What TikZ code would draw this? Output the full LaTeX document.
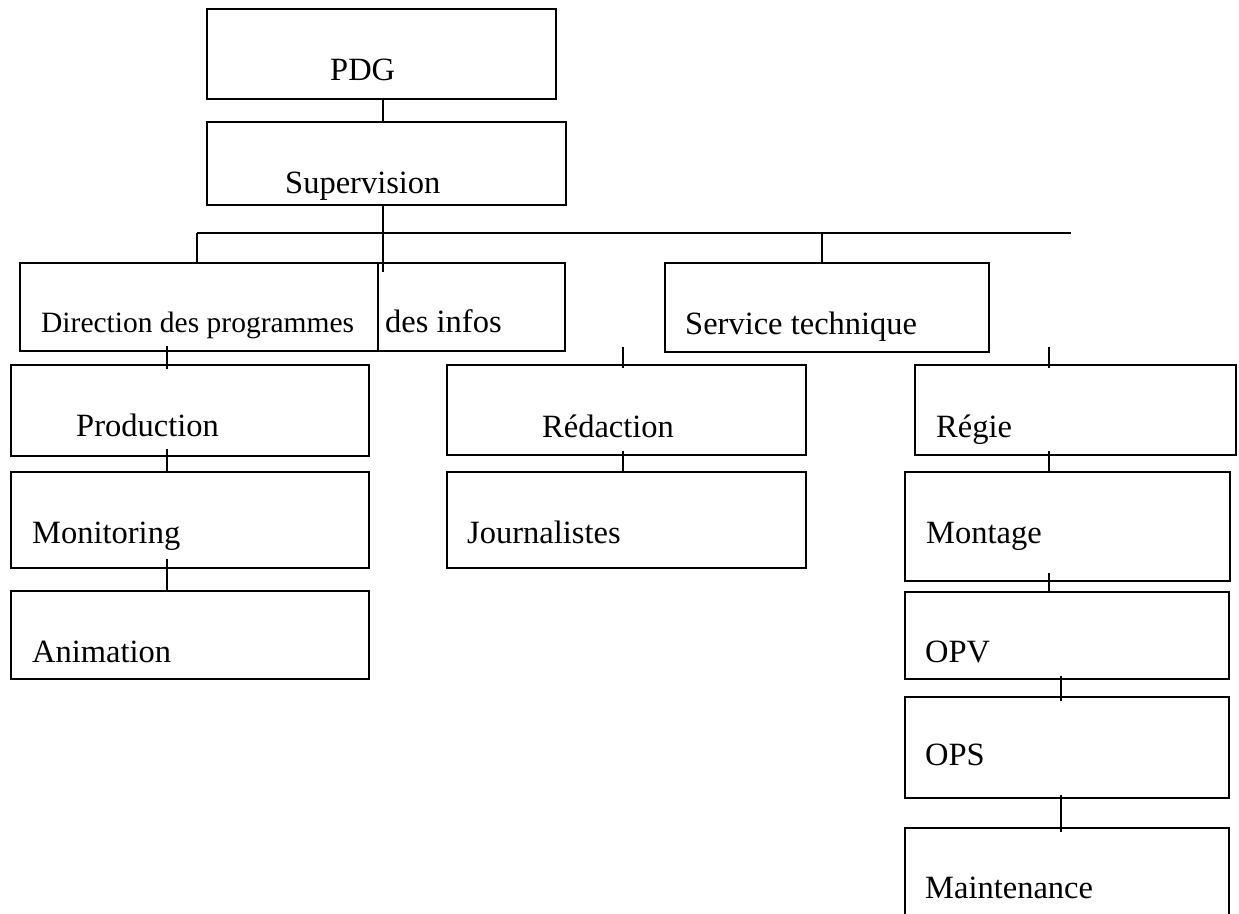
\documentclass[tikz,border=0pt]{standalone}
\usepackage{fontspec}
\setmainfont{Liberation Serif}
\tikzset{
  orgbox/.style={draw=black, fill=white, line width=1.7pt, inner sep=0pt},
  orgtext/.style={inner sep=0pt, anchor=base west, font=\fontsize{32.5}{38}\selectfont},
  smalltext/.style={inner sep=0pt, anchor=base west, font=\fontsize{29.5}{34}\selectfont},
  link/.style={draw=black, line width=1.7pt}
}
\newcommand\mybox[5]{%
  \node[orgbox, minimum width=#4pt-#2pt, minimum height=#5pt-#3pt] (#1) at ({(#2+#4)/2},{(#3+#5)/2}) {};}
\begin{document}
\begin{tikzpicture}[x=1pt,y=-1pt]
\useasboundingbox (0,0) rectangle (1239,913);
\clip (0,0) rectangle (1239,913);
% boxes
\mybox{pdg}{207}{9}{556}{99}
\mybox{sup}{207}{122}{566}{205}
\mybox{dinfo}{207}{263}{565}{351}
\mybox{dprog}{20}{263}{378}{351}
\mybox{serv}{665}{263}{989}{352}
\mybox{prod}{11}{365}{369}{456}
\mybox{mon}{11}{472}{369}{568}
\mybox{anim}{11}{591}{369}{679}
\mybox{red}{447}{365}{806}{455}
\mybox{jour}{447}{472}{806}{568}
\mybox{reg}{915}{365}{1236}{455}
\mybox{mont}{905}{472}{1230}{581}
\mybox{opv}{905}{592}{1229}{679}
\mybox{ops}{905}{697}{1229}{798}
\mybox{maint}{905}{828}{1229}{930}
% texts
\node[orgtext] (tpdg) at (330,80) {PDG};
\node[orgtext] (tsup) at (285,193) {Supervision};
\node[orgtext] (tdinfo) at (385,332) {des infos};
\node[smalltext] (tdprog) at (41,332) {Direction des programmes};
\node[orgtext] (tserv) at (685,334) {Service technique};
\node[orgtext] (tprod) at (76,436) {Production};
\node[orgtext] (tmon) at (32,543) {Monitoring};
\node[orgtext] (tanim) at (32,662) {Animation};
\node[orgtext] (tred) at (542,437) {Rédaction};
\node[orgtext] (tjour) at (467,543) {Journalistes};
\node[orgtext] (treg) at (936,437) {Régie};
\node[orgtext] (tmont) at (926,543) {Montage};
\node[orgtext] (topv) at (925,662) {OPV};
\node[orgtext] (tops) at (925,765) {OPS};
\node[orgtext] (tmaint) at (925,898) {Maintenance};
% connector coordinates
\coordinate (busL) at (197,233);
\coordinate (busR) at (1071,233);
\coordinate (busM) at (383,233);
\coordinate (busS) at (822,233);
\coordinate (supEnd) at (383,272);
\coordinate (tA) at (167,346);
\coordinate (tB) at (623,347);
\coordinate (tC) at (1049,347);
\coordinate (tD) at (1061,675);
% connectors
\draw[link] (pdg.south -| busM) -- (sup.north -| busM);
\draw[link] (sup.south -| busM) -- (supEnd);
\draw[link] (busL) -- (busR);
\draw[link] (busL) -- (dprog.north -| busL);
\draw[link] (busS) -- (serv.north -| busS);
\draw[link] (tA) -- ([yshift=-5pt]prod.north -| tA);
\draw[link] (tB) -- ([yshift=-4pt]red.north -| tB);
\draw[link] (tC) -- ([yshift=-4pt]reg.north -| tC);
\draw[link] ([yshift=8pt]prod.south -| tA) -- (mon.north -| tA);
\draw[link] ([yshift=10pt]mon.south -| tA) -- (anim.north -| tA);
\draw[link] ([yshift=5pt]red.south -| tB) -- (jour.north -| tB);
\draw[link] ([yshift=5pt]reg.south -| tC) -- (mont.north -| tC);
\draw[link] ([yshift=9pt]mont.south -| tC) -- (opv.north -| tC);
\draw[link] ([yshift=4pt]opv.south -| tD) -- ([yshift=-5pt]ops.north -| tD);
\draw[link] ([yshift=4pt]ops.south -| tD) -- ([yshift=-5pt]maint.north -| tD);
\end{tikzpicture}
\end{document}
